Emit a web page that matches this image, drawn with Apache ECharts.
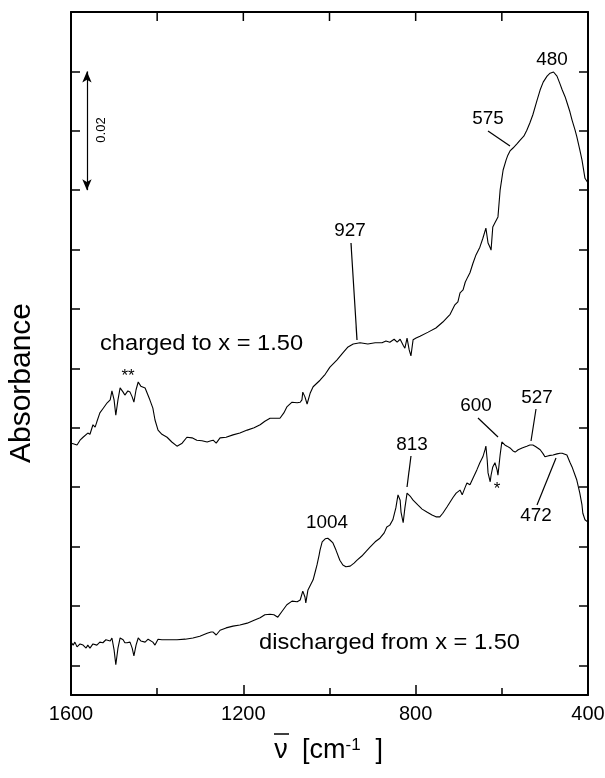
<!DOCTYPE html>
<html>
<head>
<meta charset="utf-8">
<title>IR absorbance spectra</title>
<script src="https://cdn.jsdelivr.net/npm/echarts@6/dist/echarts.min.js"></script>
<style>
  html, body { margin: 0; padding: 0; background: #fff; }
  #chart { width: 605px; height: 778px; }
</style>
</head>
<body>
<div id="chart"></div>
<script>
// Wavenumber (cm-1) vs absorbance, electrode charged to x = 1.50
const chargedSpectrum = [
  [1600,0.0424],[1595,0.0423],[1591,0.0426],[1586,0.0421],[1579,0.0429],[1572,0.0434],
  [1568,0.0431],[1561,0.0441],[1556,0.0439],[1549,0.0455],[1544,0.0451],[1540,0.0460],
  [1533,0.0475],[1526,0.0482],[1516,0.0492],[1509,0.0497],[1505,0.0512],[1500,0.0497],
  [1496,0.0471],[1491,0.0497],[1486,0.0517],[1479,0.0510],[1475,0.0505],[1468,0.0512],
  [1463,0.0510],[1458,0.0502],[1454,0.0493],[1449,0.0514],[1444,0.0527],[1438,0.0520],
  [1428,0.0517],[1417,0.0497],[1410,0.0483],[1405,0.0463],[1398,0.0446],[1389,0.0439],
  [1377,0.0434],[1366,0.0426],[1354,0.0419],[1342,0.0424],[1331,0.0434],[1319,0.0433],
  [1308,0.0429],[1296,0.0428],[1284,0.0426],[1275,0.0428],[1270,0.0429],[1263,0.0424],
  [1254,0.0433],[1240,0.0434],[1224,0.0438],[1208,0.0441],[1191,0.0446],[1175,0.0450],
  [1161,0.0455],[1150,0.0461],[1138,0.0466],[1127,0.0466],[1115,0.0466],[1106,0.0475],
  [1099,0.0485],[1087,0.0493],[1075,0.0492],[1068,0.0493],[1064,0.0497],[1062,0.0510],
  [1057,0.0502],[1052,0.0490],[1045,0.0508],[1038,0.0519],[1022,0.0530],[1010,0.0540],
  [999,0.0552],[983,0.0564],[969,0.0576],[957,0.0586],[945,0.0591],[929,0.0593],
  [911,0.0591],[894,0.0593],[878,0.0593],[869,0.0596],[860,0.0594],[850,0.0599],
  [843,0.0594],[836,0.0599],[829,0.0589],[825,0.0584],[820,0.0601],[815,0.0581],
  [811,0.0571],[806,0.0598],[799,0.0601],[790,0.0604],[771,0.0611],[753,0.0618],
  [737,0.0628],[720,0.0641],[709,0.0657],[702,0.0662],[697,0.0677],[690,0.0682],
  [685,0.0695],[679,0.0704],[674,0.0711],[667,0.0727],[660,0.0741],[651,0.0754],
  [644,0.0769],[637,0.0786],[632,0.0761],[627,0.0753],[625,0.0749],[621,0.0788],
  [616,0.0795],[609,0.0805],[604,0.0850],[597,0.0884],[590,0.0901],[586,0.0909],
  [581,0.0916],[574,0.0921],[565,0.0928],[558,0.0934],[549,0.0941],[542,0.0951],
  [535,0.0963],[528,0.0977],[518,0.1002],[511,0.1019],[504,0.1032],[495,0.1042],
  [488,0.1047],[480,0.1049],[477,0.1046],[472,0.1042],[465,0.1029],[460,0.1019],
  [453,0.1007],[449,0.0998],[442,0.0982],[437,0.0968],[430,0.0951],[426,0.0940],
  [419,0.0918],[414,0.0901],[407,0.0870],[400,0.0862]
];

// Wavenumber (cm-1) vs absorbance, electrode discharged from x = 1.50
const dischargedSpectrum = [
  [1600,0.0089],[1595,0.0084],[1591,0.0089],[1586,0.0081],[1579,0.0086],[1572,0.0084],
  [1565,0.0079],[1561,0.0084],[1556,0.0079],[1549,0.0086],[1540,0.0084],[1533,0.0089],
  [1526,0.0088],[1519,0.0093],[1509,0.0091],[1505,0.0096],[1500,0.0076],[1496,0.0051],
  [1491,0.0079],[1486,0.0096],[1479,0.0093],[1475,0.0088],[1470,0.0088],[1463,0.0089],
  [1458,0.0079],[1454,0.0066],[1449,0.0084],[1444,0.0096],[1438,0.0091],[1428,0.0089],
  [1421,0.0094],[1417,0.0093],[1410,0.0089],[1405,0.0084],[1398,0.0094],[1389,0.0093],
  [1377,0.0093],[1366,0.0093],[1354,0.0093],[1335,0.0094],[1317,0.0096],[1301,0.0099],
  [1284,0.0104],[1275,0.0106],[1270,0.0106],[1263,0.0101],[1254,0.0109],[1240,0.0113],
  [1224,0.0116],[1208,0.0118],[1191,0.0121],[1175,0.0126],[1161,0.0130],[1150,0.0135],
  [1138,0.0136],[1129,0.0135],[1120,0.0131],[1110,0.0141],[1099,0.0152],[1087,0.0158],
  [1075,0.0157],[1068,0.0160],[1062,0.0175],[1057,0.0165],[1055,0.0155],[1050,0.0177],
  [1043,0.0187],[1038,0.0194],[1034,0.0205],[1029,0.0219],[1024,0.0236],[1022,0.0244],
  [1017,0.0258],[1010,0.0263],[1004,0.0264],[999,0.0261],[992,0.0256],[985,0.0244],
  [976,0.0227],[969,0.0219],[962,0.0216],[952,0.0217],[943,0.0222],[936,0.0227],
  [925,0.0234],[915,0.0242],[906,0.0249],[894,0.0258],[883,0.0264],[873,0.0273],
  [867,0.0283],[860,0.0286],[853,0.0295],[846,0.0315],[841,0.0337],[836,0.0328],
  [834,0.0308],[829,0.0290],[825,0.0315],[820,0.0340],[813,0.0335],[806,0.0328],
  [795,0.0320],[785,0.0313],[774,0.0308],[762,0.0303],[753,0.0300],[744,0.0300],
  [737,0.0306],[727,0.0317],[720,0.0325],[713,0.0333],[706,0.0340],[702,0.0338],
  [697,0.0345],[692,0.0337],[685,0.0350],[681,0.0357],[674,0.0354],[667,0.0365],
  [658,0.0379],[651,0.0391],[644,0.0401],[639,0.0413],[637,0.0419],[634,0.0396],
  [632,0.0374],[627,0.0359],[625,0.0370],[621,0.0384],[616,0.0391],[614,0.0392],
  [611,0.0379],[609,0.0370],[604,0.0404],[600,0.0426],[597,0.0429],[593,0.0421],
  [588,0.0419],[581,0.0416],[574,0.0411],[569,0.0409],[562,0.0413],[553,0.0416],
  [542,0.0419],[535,0.0421],[528,0.0421],[521,0.0418],[511,0.0413],[504,0.0406],
  [500,0.0401],[491,0.0403],[481,0.0404],[472,0.0406],[465,0.0407],[460,0.0407],
  [456,0.0409],[449,0.0404],[442,0.0392],[437,0.0384],[430,0.0370],[426,0.0362],
  [419,0.0340],[414,0.0320],[412,0.0306],[407,0.0295],[400,0.0291]
];

// Absorbance positions of the unlabeled y ticks (0.01 apart)
const yTickValues = [0.005,0.015,0.025,0.035,0.045,0.055,0.065,0.075,0.085,0.095,0.105,0.115];
// Wavenumber positions of the ticks hanging from the top edge
const topTickValues = [1400,1200,1000,800,600];
// Scale bar: 0.02 absorbance units drawn at this wavenumber
const scaleBar = { nu: 1563, from: 0.105, to: 0.085, text: '0.02' };

const Y_MAX = 0.115;
const FONT = 'Liberation Sans, Arial, Helvetica, sans-serif';
const chart = echarts.init(document.getElementById('chart'), null, { renderer: 'canvas' });

function axisLine() { return { show: true, onZero: false, lineStyle: { color: '#000', width: 2 } }; }
function tickLine() { return { color: '#000', width: 1.5 }; }

function textEl(x, y, text, size, extra) {
  return Object.assign({
    type: 'text', x: x, y: y,
    style: { text: text, fill: '#000', font: size + 'px ' + FONT, align: 'center', verticalAlign: 'middle' }
  }, extra || {});
}
function leftText(x, y, text, size, sx) {
  return { type: 'text', x: x, y: y, scaleX: sx || 1,
    style: { text: text, fill: '#000', font: size + 'px ' + FONT, align: 'left', verticalAlign: 'middle' } };
}
function leader(x1, y1, x2, y2) {
  return { type: 'line', shape: { x1: x1, y1: y1, x2: x2, y2: y2 }, style: { stroke: '#000', lineWidth: 1.2 } };
}

const annotations = [
  // axis titles
  textEl(22, 383, 'Absorbance', 30, { rotation: Math.PI / 2 }),
  textEl(281, 751, '\u03BD', 27),
  { type: 'line', shape: { x1: 274, y1: 734, x2: 289, y2: 734 }, style: { stroke: '#000', lineWidth: 1.5 } },
  {
    type: 'text', x: 302, y: 751,
    style: {
      text: '[cm{s|-1}  ]',
      fill: '#000', font: '27px ' + FONT, align: 'left', verticalAlign: 'middle',
      rich: { s: { font: '17px ' + FONT, fill: '#000', verticalAlign: 'top', padding: [0, 0, 11, 0] } }
    }
  },
  // scale bar value
  textEl(101, 130, scaleBar.text, 13, { rotation: Math.PI / 2 }),
  // spectrum captions
  leftText(100, 344, 'charged to x = 1.50', 21.5, 1.1),
  leftText(259, 643, 'discharged from x = 1.50', 21.5, 1.1),
  // band assignments, charged spectrum
  textEl(552, 60, '480', 18, { scaleX: 1.05 }),
  textEl(488, 119, '575', 18, { scaleX: 1.05 }), leader(488, 131, 510, 146),
  textEl(350, 231, '927', 18, { scaleX: 1.05 }), leader(351, 243, 357, 340),
  textEl(128, 376, '**', 17),
  // band assignments, discharged spectrum
  textEl(476, 406, '600', 18, { scaleX: 1.05 }), leader(478, 418, 498, 437),
  textEl(537, 398, '527', 18, { scaleX: 1.05 }), leader(536, 409, 531, 441),
  textEl(412, 445, '813', 18, { scaleX: 1.05 }), leader(411, 456, 407, 487),
  textEl(327, 523, '1004', 18, { scaleX: 1.05 }),
  textEl(536, 516, '472', 18, { scaleX: 1.05 }), leader(537, 505, 556, 458),
  textEl(497, 489, '*', 17)
];

const option = {
  animation: false,
  backgroundColor: '#fff',
  grid: { left: 71, right: 17, top: 12, bottom: 83, containLabel: false, outerBoundsMode: 'none' },
  xAxis: [
    {
      type: 'value', position: 'bottom', inverse: true, min: 400, max: 1600, interval: 400,
      axisLine: axisLine(),
      axisTick: { show: true, inside: true, length: 10, lineStyle: tickLine() },
      minorTick: { show: true, splitNumber: 2, length: 7, lineStyle: tickLine() },
      axisLabel: { show: true, color: '#000', fontSize: 20, fontFamily: FONT, margin: 9,
                   formatter: function (v) { return String(v); } },
      splitLine: { show: false }, minorSplitLine: { show: false }
    },
    {
      // top edge of the frame
      type: 'value', position: 'top', inverse: true, min: 400, max: 1600, interval: 200,
      axisLine: axisLine(),
      axisTick: { show: false },
      axisLabel: { show: false },
      splitLine: { show: false }
    }
  ],
  yAxis: [
    {
      type: 'value', position: 'left', min: 0, max: Y_MAX,
      axisLine: axisLine(),
      axisTick: { show: true, inside: true, length: 9, lineStyle: tickLine(), customValues: yTickValues },
      axisLabel: { show: false },
      splitLine: { show: false }
    },
    {
      type: 'value', position: 'right', min: 0, max: Y_MAX,
      axisLine: axisLine(),
      axisTick: { show: true, inside: true, length: 9, lineStyle: tickLine(), customValues: yTickValues },
      axisLabel: { show: false },
      splitLine: { show: false }
    }
  ],
  series: [
    {
      name: 'charged to x = 1.50', type: 'line', xAxisIndex: 0, yAxisIndex: 0,
      data: chargedSpectrum, showSymbol: false, smooth: false,
      lineStyle: { color: '#000', width: 1.1 },
      markLine: {
        silent: true, symbol: ['arrow', 'arrow'], symbolSize: [7, 11],
        lineStyle: { color: '#000', width: 1.2, type: 'solid' },
        label: { show: false },
        data: [[{ coord: [scaleBar.nu, scaleBar.from] }, { coord: [scaleBar.nu, scaleBar.to] }]]
      }
    },
    {
      name: 'discharged from x = 1.50', type: 'line', xAxisIndex: 0, yAxisIndex: 0,
      data: dischargedSpectrum, showSymbol: false, smooth: false,
      lineStyle: { color: '#000', width: 1.1 }
    }
  ],
  graphic: annotations
};

chart.setOption(option);

// Ticks hanging from the top edge, placed through the chart's own scales
const topY = chart.convertToPixel({ yAxisIndex: 0 }, Y_MAX);
const topTicks = topTickValues.map(function (v) {
  const x = chart.convertToPixel({ xAxisIndex: 0 }, v);
  return { type: 'line', shape: { x1: x, y1: topY, x2: x, y2: topY + 9 }, style: { stroke: '#000', lineWidth: 1.5 } };
});
chart.setOption({ graphic: annotations.concat(topTicks) });
</script>
</body>
</html>
